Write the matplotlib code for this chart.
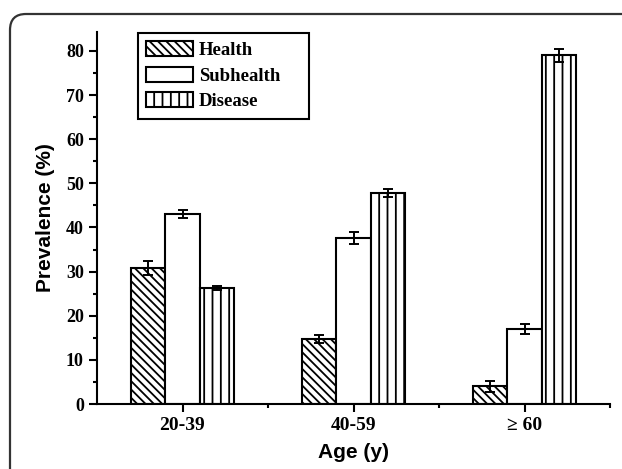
import matplotlib
matplotlib.use('Agg')
import matplotlib.pyplot as plt
import numpy as np
from matplotlib.patches import FancyBboxPatch
from matplotlib.transforms import IdentityTransform
from matplotlib.ticker import MultipleLocator, FixedLocator

# data
ages = ['20-39', '40-59', '\u2265 60']
groups = ['Health', 'Subhealth', 'Disease']
health = [30.9, 14.8, 4.0]
health_err = [1.6, 0.9, 1.3]
subhealth = [43.0, 37.6, 16.9]
subhealth_err = [0.9, 1.3, 1.15]
disease = [26.3, 47.8, 79.0]
disease_err = [0.5, 1.0, 1.45]

plt.rcParams['hatch.linewidth'] = 1.3

fig = plt.figure(figsize=(6.22, 4.69), dpi=100)
ax = fig.add_axes([97/622, 65/469, 513/622, 372/469])

# rounded frame around the figure
frame = FancyBboxPatch((10, -30), 700, 469 - 14 + 30,
                       boxstyle='round,pad=0,rounding_size=16',
                       transform=IdentityTransform(), facecolor='none',
                       edgecolor='#333333', linewidth=1.6, clip_on=False)
fig.add_artist(frame)

x = np.arange(len(ages))
w = 0.2
series = [(health, health_err, '\\\\\\\\'), (subhealth, subhealth_err, ''),
          (disease, disease_err, '||')]
for i, (vals, errs, hatch) in enumerate(series):
    pos = x + (i - 1) * w
    ax.bar(pos, vals, w, color='white', edgecolor='black', linewidth=1.5,
           hatch=hatch, label=groups[i], zorder=2)
    ax.errorbar(pos, vals, yerr=errs, fmt='none', ecolor='black',
                elinewidth=1.4, capsize=3.5, capthick=1.4, zorder=3)

ax.set_xlim(-0.5, 2.5)
ax.set_ylim(0, 84.3)
ax.spines['top'].set_visible(False)
ax.spines['right'].set_visible(False)
for s in ['left', 'bottom']:
    ax.spines[s].set_linewidth(1.5)

serif = {'family': 'Liberation Serif', 'weight': 'bold'}
ax.yaxis.set_major_locator(MultipleLocator(10))
ax.yaxis.set_minor_locator(MultipleLocator(5))
ax.set_xticks(x)
ax.set_xticklabels(ages, fontdict=dict(serif, size=14))
ax.xaxis.set_minor_locator(FixedLocator([0.5, 1.5, 2.5]))
for lab in ax.get_yticklabels():
    lab.set_fontfamily('Liberation Serif')
    lab.set_fontweight('bold')
    lab.set_fontsize(13)
ax.tick_params(which='major', direction='out', length=5.5, width=1.5, pad=4)
ax.tick_params(which='minor', direction='out', length=3, width=1.5)

ax.set_xlabel('Age (y)', family='Liberation Sans', weight='bold', size=15,
              labelpad=6)
ax.set_ylabel('Prevalence (%)', family='Liberation Sans', weight='bold',
              size=15, labelpad=8)

leg = ax.legend(loc='upper left',
                bbox_to_anchor=(138/622, 1 - 116/469, 171/622, 83/469),
                bbox_transform=fig.transFigure, mode='expand', fancybox=False,
                edgecolor='black', framealpha=1, borderaxespad=0,
                handlelength=2.5, handleheight=0.85, handletextpad=0.3,
                labelspacing=0.4, borderpad=0.45,
                prop={'family': 'Liberation Serif', 'weight': 'bold',
                      'size': 13.5})
leg.get_frame().set_linewidth(1.5)

fig.savefig('out.png', dpi=100)
